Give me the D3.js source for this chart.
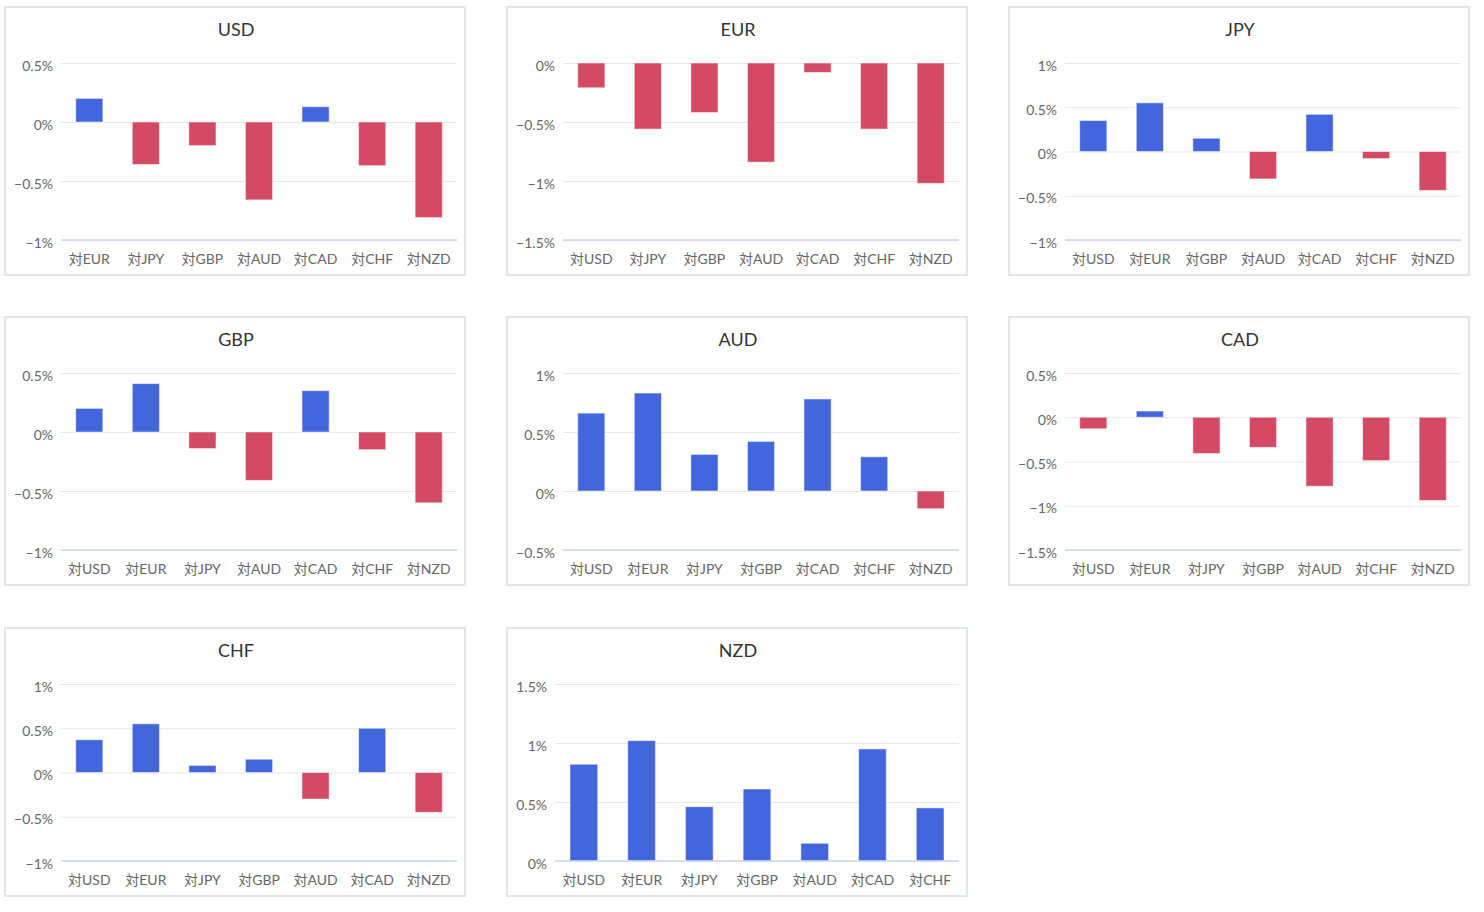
<!DOCTYPE html>
<html><head><meta charset="utf-8">
<script src="https://cdn.jsdelivr.net/npm/d3@7"></script>
<style>
html,body{margin:0;padding:0;background:#fff;}
svg{display:block;}
text{font-family:"Lato","Noto Sans CJK JP",sans-serif;}
</style></head>
<body>
<svg id="chart" width="1484" height="912"></svg>
<script>
const currencies = ["USD","EUR","JPY","GBP","AUD","CAD","CHF","NZD"];
const usdValues = [0.20,-0.36,-0.20,-0.66,0.13,-0.37,-0.81];
const eurValues = [-0.21,-0.56,-0.42,-0.84,-0.08,-0.56,-1.02];
const jpyValues = [0.35,0.55,0.15,-0.31,0.42,-0.08,-0.44];
const gbpValues = [0.20,0.41,-0.14,-0.41,0.35,-0.15,-0.60];
const audValues = [0.66,0.83,0.31,0.42,0.78,0.29,-0.15];
const cadValues = [-0.13,0.07,-0.41,-0.34,-0.78,-0.49,-0.94];
const chfValues = [0.37,0.55,0.08,0.15,-0.30,0.50,-0.45];
const nzdValues = [0.82,1.02,0.46,0.61,0.15,0.95,0.45];
const seriesValues = [usdValues,eurValues,jpyValues,gbpValues,audValues,cadValues,chfValues,nzdValues];
const tickValues = [
  [0.5,0,-0.5,-1],
  [0,-0.5,-1,-1.5],
  [1,0.5,0,-0.5,-1],
  [0.5,0,-0.5,-1],
  [1,0.5,0,-0.5],
  [0.5,0,-0.5,-1,-1.5],
  [1,0.5,0,-0.5,-1],
  [1.5,1,0.5,0]
];
const tickLabel = v => (v<0?"\u2212":"") + d3.format("~g")(Math.abs(v)) + "%";

const svg = d3.select("#chart");
const panelW = 460, panelH = 268;
const colX = [5,507,1009];
const rowY = [7,317,628];
const plotTop = 56, plotH = 177, padR = 8;
const BLUE = "#4466dd", RED = "#d44a65";
const FS = 14;

// measure label widths
const meas = svg.append("text").attr("font-size",FS).attr("opacity",0);
function textW(s){ meas.text(s); return meas.node().getComputedTextLength(); }

currencies.forEach((cur,i) => {
  const px = colX[i%3], py = rowY[Math.floor(i/3)];
  const g = svg.append("g").attr("transform",`translate(${px},${py})`);
  g.append("rect").attr("x",0).attr("y",0).attr("width",panelW).attr("height",panelH)
    .attr("fill","#fff").attr("stroke","#e1e6ea").attr("stroke-width",2);
  g.append("text").attr("x",panelW/2+1).attr("y",22).attr("text-anchor","middle")
    .attr("dominant-baseline","central").attr("font-size",18).attr("fill","#333").text(cur);

  const cats = currencies.filter(c => c!==cur).map(c => "対"+c);
  const vals = seriesValues[i];
  const ticks = tickValues[i];
  const maxW = d3.max(ticks, t => textW(tickLabel(t)));
  const left = Math.round(8 + maxW + 9);
  const x = d3.scaleBand().domain(cats).range([left, panelW - padR]).paddingInner(0.52).paddingOuter(0.26);
  const y = d3.scaleLinear().domain([d3.min(ticks), d3.max(ticks)]).range([plotTop+plotH, plotTop]);

  // grid
  const yAxis = d3.axisLeft(y).tickValues(ticks).tickSize(-(panelW - padR - left)).tickFormat(tickLabel).tickPadding(8);
  const ya = g.append("g").attr("transform",`translate(${left},0)`).call(yAxis);
  ya.select(".domain").remove();
  ya.selectAll(".tick line").attr("stroke","#e6e6e6").attr("stroke-width",1);
  ya.selectAll(".tick text").attr("font-size",FS).attr("fill","#666").attr("dy","0.5em").attr("x",-8);

  // bars
  g.selectAll("rect.bar").data(vals).join("rect").attr("class","bar")
    .attr("x",(d,j)=>x(cats[j]))
    .attr("width",x.bandwidth())
    .attr("y",d=>y(Math.max(0,d)))
    .attr("height",d=>Math.abs(y(d)-y(0)))
    .attr("fill",d=>d>=0?BLUE:RED)
    .attr("stroke","rgba(255,255,255,0.5)").attr("stroke-width",1);

  // x axis
  const xAxis = d3.axisBottom(x).tickSize(0).tickPadding(14);
  const xa = g.append("g").attr("transform",`translate(0,${plotTop+plotH})`).call(xAxis);
  xa.select(".domain").attr("stroke","#ccd6eb").attr("stroke-width",1.5).attr("d",`M${left},0H${panelW-padR}`);
  xa.selectAll(".tick text").attr("font-size",FS).attr("fill","#666");
});
meas.remove();
</script>
</body></html>
